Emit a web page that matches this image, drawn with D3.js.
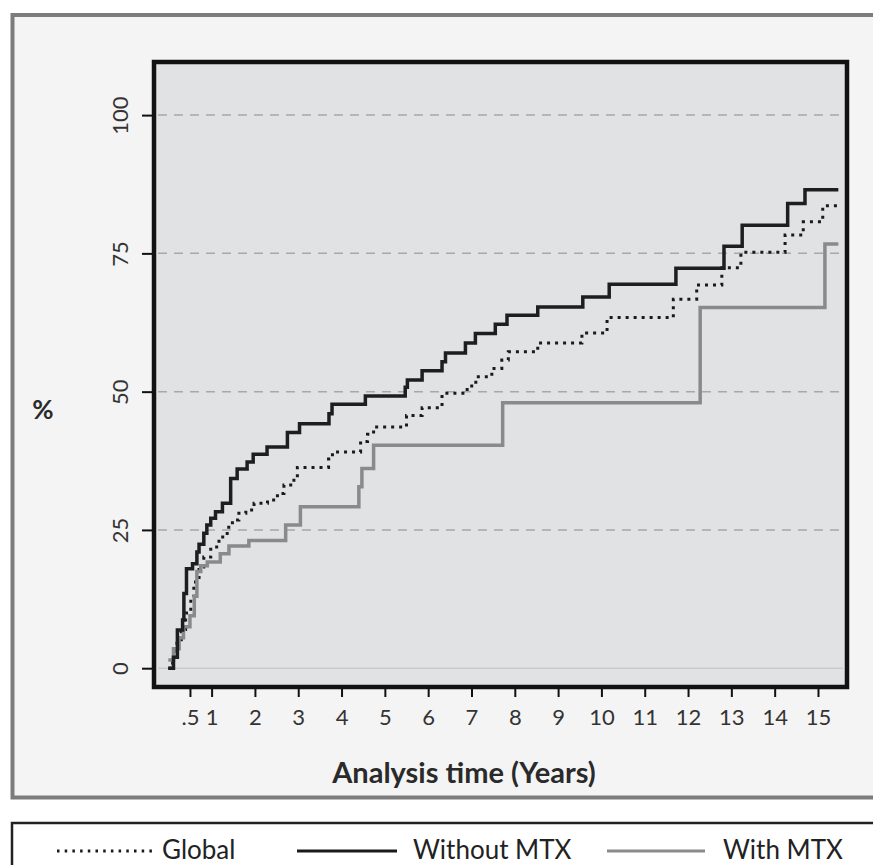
<!DOCTYPE html>
<html>
<head>
<meta charset="utf-8">
<script src="https://cdn.jsdelivr.net/npm/d3@7"></script>
<style>
  body { margin: 0; background: #fff; }
  svg { display: block; font-family: Lato, "Open Sans", sans-serif; }
</style>
</head>
<body>
<div id="chart"></div>
<script>
// step points (time in years, cumulative %)
const globalTimes = [0, 0.1, 0.2, 0.3, 0.4, 0.52, 0.59, 0.71, 0.82, 0.98, 1.17, 1.36, 1.48, 1.63, 1.79, 1.98, 2.29, 2.52, 2.67, 2.9, 2.98, 3.7, 3.79, 4.44, 4.6, 4.74, 5.5, 5.86, 6.32, 6.9, 7.1, 7.47, 7.7, 7.85, 8.53, 9.55, 10.13, 11.66, 12.2, 12.78, 13.22, 14.24, 14.66, 15.11, 15.47];
const globalValues = [0, 2, 4.5, 7, 10, 12.9, 15.6, 18.3, 20.1, 21.9, 23.7, 25.5, 26.8, 28.0, 28.6, 29.8, 30.4, 31.6, 33.1, 34.3, 36.3, 37.8, 39.1, 41.0, 42.3, 43.6, 45.7, 47.1, 49.7, 51.0, 52.7, 54.2, 55.7, 57.2, 58.8, 60.6, 63.4, 66.7, 69.3, 72.4, 75.2, 78.3, 80.7, 83.6, 83.6];

const withoutTimes = [0, 0.12, 0.21, 0.33, 0.36, 0.42, 0.56, 0.66, 0.71, 0.82, 0.89, 0.98, 1.09, 1.25, 1.44, 1.59, 1.82, 1.96, 2.28, 2.75, 3.03, 3.71, 3.78, 4.55, 5.47, 5.52, 5.86, 6.32, 6.4, 6.86, 7.09, 7.55, 7.82, 8.53, 9.57, 10.18, 11.72, 12.83, 13.25, 14.3, 14.7, 15.47];
const withoutValues = [0, 2.0, 6.9, 8.7, 13.5, 18.0, 18.9, 21.0, 22.4, 24.4, 25.9, 27.1, 28.3, 29.8, 34.3, 36.0, 37.3, 38.7, 40.0, 42.6, 44.2, 46.0, 47.7, 49.2, 50.8, 52.1, 53.8, 55.4, 57.0, 58.8, 60.5, 62.2, 63.8, 65.3, 67.1, 69.4, 72.3, 76.3, 80.1, 84.0, 86.5, 86.5];

const withTimes = [0, 0.12, 0.25, 0.35, 0.5, 0.6, 0.66, 0.75, 0.9, 1.2, 1.4, 1.86, 2.71, 3.05, 4.4, 4.47, 4.74, 7.72, 12.28, 15.16, 15.47];
const withValues = [1.5, 3.5, 5.5, 7.5, 9.5, 13.0, 17.5, 18.5, 19.2, 20.7, 22.1, 23.1, 25.9, 29.2, 32.8, 36.1, 40.3, 48.0, 65.2, 76.7, 76.7];

const yTicks = [0, 25, 50, 75, 100];
const xTicks = [0.5, 1, 2, 3, 4, 5, 6, 7, 8, 9, 10, 11, 12, 13, 14, 15];
const legendNames = ["Global", "Without MTX", "With MTX"];

const width = 873, height = 865;
const plotLeft = 154, plotRight = 847, plotTop = 62, plotBottom = 687;

const svg = d3.select("#chart").append("svg")
    .attr("width", width)
    .attr("height", height);

const x = d3.scaleLinear().domain([-0.33, 15.67]).range([plotLeft, plotRight]);
const y = d3.scaleLinear().domain([-3.4, 109.6]).range([plotBottom, plotTop]);

// outer panel
svg.append("rect")
    .attr("x", 12.5).attr("y", 15)
    .attr("width", 900).attr("height", 782.5)
    .attr("fill", "#f4f4f4")
    .attr("stroke", "#7c7c7c")
    .attr("stroke-width", 4);

// plot background
svg.append("rect")
    .attr("x", plotLeft).attr("y", plotTop)
    .attr("width", plotRight - plotLeft).attr("height", plotBottom - plotTop)
    .attr("fill", "#e1e2e4");

// grid
svg.selectAll(".grid")
    .data(yTicks)
    .enter()
    .append("line")
    .attr("class", "grid")
    .attr("x1", plotLeft + 4).attr("x2", plotRight - 4)
    .attr("y1", d => y(d)).attr("y2", d => y(d))
    .attr("stroke", d => d === 0 ? "#cbcbcd" : "#a8a8a8")
    .attr("stroke-width", 1.5)
    .attr("stroke-dasharray", d => d === 0 ? null : "9,7");

// curves
const line = d3.line()
    .x(d => x(d[0]))
    .y(d => y(d[1]))
    .curve(d3.curveStepAfter);

const series = [
    { name: "Global", pts: d3.zip(globalTimes, globalValues), color: "#1a1a1a", dash: "3,5", w: 3 },
    { name: "With MTX", pts: d3.zip(withTimes, withValues), color: "#8a8a8a", dash: null, w: 3.5 },
    { name: "Without MTX", pts: d3.zip(withoutTimes, withoutValues), color: "#1e1e1e", dash: null, w: 3.5 }
];

svg.selectAll(".curve")
    .data(series)
    .enter()
    .append("path")
    .attr("class", "curve")
    .attr("d", d => line(d.pts))
    .attr("fill", "none")
    .attr("stroke", d => d.color)
    .attr("stroke-width", d => d.w)
    .attr("stroke-dasharray", d => d.dash);

// axes
const yAxis = svg.append("g")
    .attr("transform", `translate(${plotLeft},0)`)
    .call(d3.axisLeft(y).tickValues(yTicks).tickSize(12).tickPadding(0));
yAxis.select(".domain").remove();
yAxis.selectAll(".tick line").attr("stroke", "#111").attr("stroke-width", 2);
yAxis.selectAll(".tick text")
    .attr("x", null).attr("dy", null)
    .attr("transform", "translate(-26,0) rotate(-90)")
    .attr("text-anchor", "middle")
    .attr("fill", "#333")
    .style("font-family", "Lato, sans-serif")
    .style("font-size", "22px");

const xAxis = svg.append("g")
    .attr("transform", `translate(0,${plotBottom})`)
    .call(d3.axisBottom(x).tickValues(xTicks).tickSize(10)
        .tickFormat(d => d === 0.5 ? ".5" : d));
xAxis.select(".domain").remove();
xAxis.selectAll(".tick line").attr("stroke", "#111").attr("stroke-width", 2);
xAxis.selectAll(".tick text")
    .attr("y", 38).attr("dy", null)
    .attr("fill", "#333")
    .style("font-family", "Lato, sans-serif")
    .style("font-size", "22px");

// frame
svg.append("rect")
    .attr("x", plotLeft).attr("y", plotTop)
    .attr("width", plotRight - plotLeft).attr("height", plotBottom - plotTop)
    .attr("fill", "none")
    .attr("stroke", "#121212")
    .attr("stroke-width", 4.5);

// axis titles
svg.append("text")
    .attr("x", 464).attr("y", 783)
    .attr("text-anchor", "middle")
    .attr("fill", "#2a2a2a")
    .style("font-weight", "bold")
    .style("font-size", "29px")
    .text("Analysis time (Years)");

svg.append("text")
    .attr("x", 43).attr("y", 419)
    .attr("text-anchor", "middle")
    .attr("fill", "#2a2a2a")
    .style("font-weight", "bold")
    .style("font-size", "26px")
    .text("%");

// legend
svg.append("rect")
    .attr("x", 12).attr("y", 823)
    .attr("width", 900).attr("height", 100)
    .attr("fill", "#fff")
    .attr("stroke", "#222")
    .attr("stroke-width", 2.5);

const legendItems = [
    { name: legendNames[0], x1: 57, x2: 157, tx: 162, color: "#1a1a1a", dash: "2.5,5.2" },
    { name: legendNames[1], x1: 297, x2: 397, tx: 413, color: "#1a1a1a", dash: null },
    { name: legendNames[2], x1: 607, x2: 705, tx: 723, color: "#8a8a8a", dash: null }
];

const leg = svg.selectAll(".leg")
    .data(legendItems)
    .enter()
    .append("g")
    .attr("class", "leg");

leg.append("line")
    .attr("x1", d => d.x1).attr("x2", d => d.x2)
    .attr("y1", 851).attr("y2", 851)
    .attr("stroke", d => d.color)
    .attr("stroke-width", 3)
    .attr("stroke-dasharray", d => d.dash);

leg.append("text")
    .attr("x", d => d.tx).attr("y", 859)
    .attr("fill", "#222")
    .style("font-size", "26px")
    .text(d => d.name);
</script>
</body>
</html>
